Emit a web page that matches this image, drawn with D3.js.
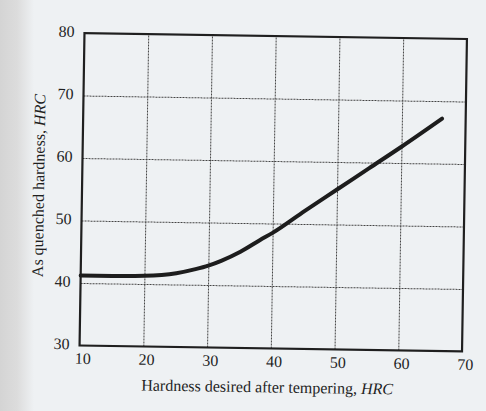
<!DOCTYPE html>
<html><head>
<meta charset="UTF-8">
<title>As quenched hardness vs hardness after tempering</title>
<script src="https://d3js.org/d3.v7.min.js"></script>
<style>
  body { margin: 0; background: #eef1f3; }
  svg { display: block; }
  .lbl { font-family: "Liberation Serif", "Times New Roman", serif; font-size: 16px; fill: #1f1f1f; }
  .grid line { stroke: #444; stroke-width: 1px; stroke-dasharray: 2,1; }
  .grid path { display: none; }
  .ax path, .ax line { display: none; }
  .frame { fill: none; stroke: #1f1f1f; stroke-width: 2.2px; }
  .curve { fill: none; stroke: #1d1d1d; stroke-width: 4px; stroke-linecap: round; }
</style>
</head>
<body>
<script>
// values
var tempered = [10, 15, 20, 25, 28, 30, 32, 35, 38, 40, 45, 50, 55, 60, 66.3];
var quenched = [41.2, 41.2, 41.3, 41.8, 42.5, 43.1, 43.9, 45.4, 47.3, 48.5, 52.1, 55.6, 59.1, 62.6, 67.2];
var xTicks = [10, 20, 30, 40, 50, 60, 70];
var yTicks = [30, 40, 50, 60, 70, 80];
var xGrid = [20, 30, 40, 50, 60];
var yGrid = [40, 50, 60, 70];

var W = 486, H = 411;
var margin = {top: 36, left: 82};
var width = 382.5, height = 312.5;

var svg = d3.select("body").append("svg")
    .attr("width", W)
    .attr("height", H);

// scanned page look: grey shadow on the left edge
var grad = svg.append("defs").append("linearGradient")
    .attr("id", "shade").attr("x1", 0).attr("x2", 1).attr("y1", 0).attr("y2", 0);
grad.append("stop").attr("offset", "0").attr("stop-color", "#d4d4d4");
grad.append("stop").attr("offset", "0.035").attr("stop-color", "#dcdcdc");
grad.append("stop").attr("offset", "0.07").attr("stop-color", "#eef1f3");
grad.append("stop").attr("offset", "1").attr("stop-color", "#eef1f3");
svg.append("rect").attr("width", W).attr("height", H).attr("fill", "url(#shade)");

// the scan is tilted slightly clockwise
var g = svg.append("g")
    .attr("transform", "rotate(0.9," + (margin.left + width / 2) + "," + (margin.top + height / 2) + ") translate(" + margin.left + "," + margin.top + ")");

var x = d3.scaleLinear().domain([10, 70]).range([0, width]);
var y = d3.scaleLinear().domain([30, 80]).range([height, 0]);

// grid
g.append("g").attr("class", "grid")
    .attr("transform", "translate(0," + height + ")")
    .call(d3.axisBottom(x).tickValues(xGrid).tickSize(-height).tickFormat(""));
g.append("g").attr("class", "grid")
    .call(d3.axisLeft(y).tickValues(yGrid).tickSize(-width).tickFormat(""));

// tick labels
var xa = g.append("g").attr("class", "ax")
    .attr("transform", "translate(0," + height + ")")
    .call(d3.axisBottom(x).tickValues(xTicks).tickSize(0).tickPadding(7).tickFormat(d3.format("d")));
xa.selectAll("text").attr("class", "lbl").attr("fill", null).attr("dx", "3");

var ya = g.append("g").attr("class", "ax")
    .call(d3.axisLeft(y).tickValues(yTicks).tickSize(0).tickPadding(10).tickFormat(d3.format("d")));
ya.selectAll("text").attr("class", "lbl").attr("fill", null).attr("dy", "0.22em");

// frame
g.append("rect").attr("class", "frame")
    .attr("width", width).attr("height", height);

// curve
var line = d3.line()
    .x(function(d, i) { return x(tempered[i]); })
    .y(function(d) { return y(d); })
    .curve(d3.curveMonotoneX);

g.append("path")
    .datum(quenched)
    .attr("class", "curve")
    .attr("d", line);

// axis titles
var xt = g.append("text").attr("class", "lbl")
    .attr("x", width / 2 - 3).attr("y", height + 44)
    .attr("text-anchor", "middle");
xt.append("tspan").text("Hardness desired after tempering, ");
xt.append("tspan").style("font-style", "italic").text("HRC");

var yt = g.append("text").attr("class", "lbl")
    .attr("transform", "translate(-38," + (height / 2 - 3) + ") rotate(-90)")
    .attr("text-anchor", "middle");
yt.append("tspan").text("As quenched hardness, ");
yt.append("tspan").style("font-style", "italic").text("HRC");
</script>
</body>
</html>
